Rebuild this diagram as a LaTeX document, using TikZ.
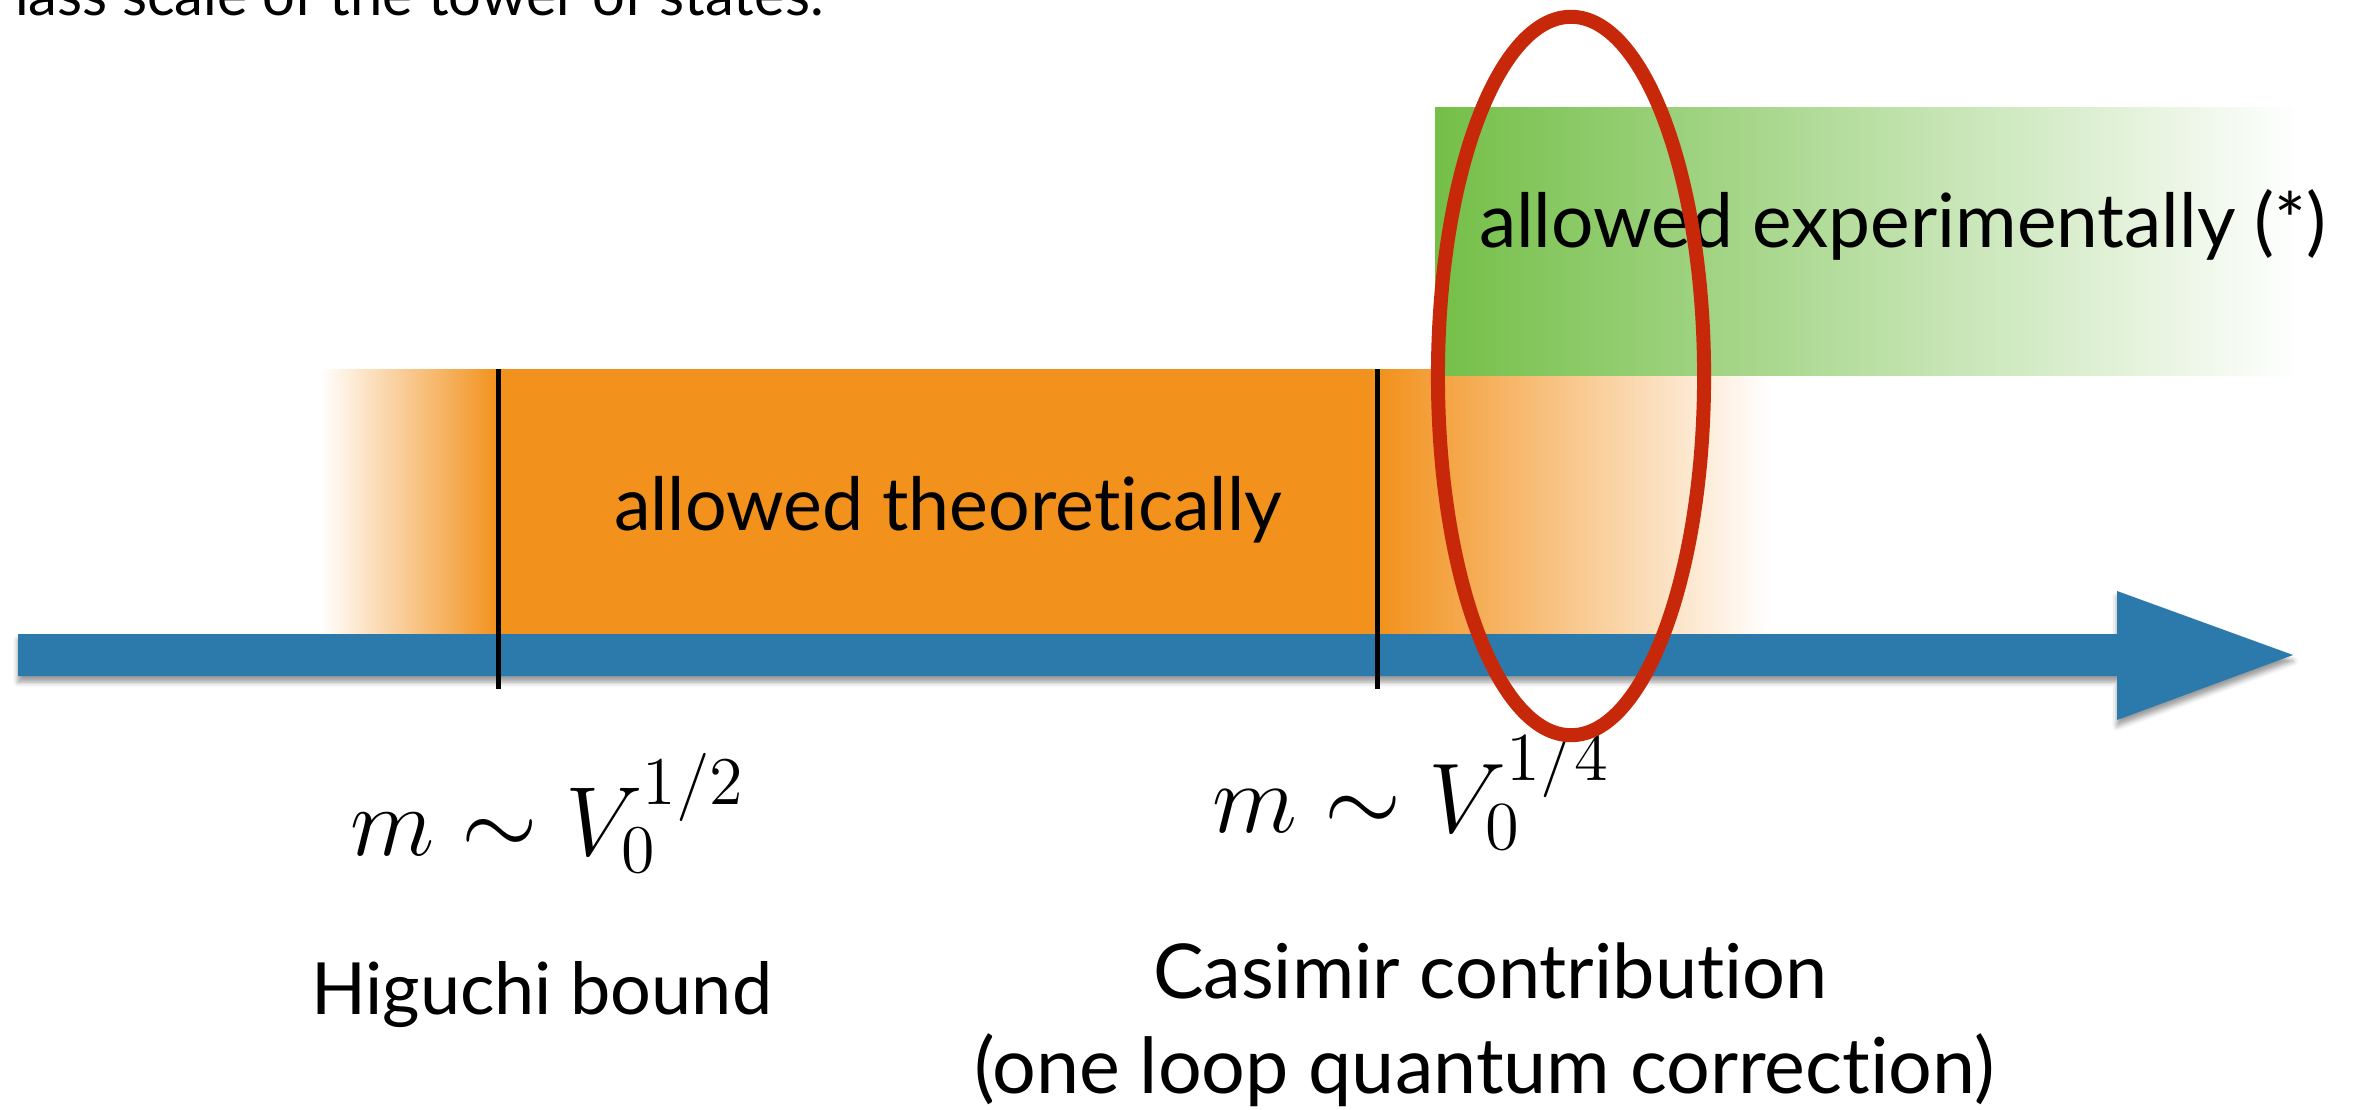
\documentclass[tikz,border=0pt]{standalone}
\usepackage[no-math]{fontspec}
\setmainfont{Lato}[Ligatures={NoCommon,NoDiscretionary}]
\usetikzlibrary{shapes.geometric,shadows.blur}
\definecolor{borange}{RGB}{242,145,28}
\definecolor{bgreen}{RGB}{116,191,72}
\definecolor{bblue}{RGB}{44,122,172}
\definecolor{bred}{RGB}{200,40,10}
\newcommand\fitw[2]{\resizebox{#1}{!}{#2}}
\begin{document}
\begin{tikzpicture}[x=0.01cm,y=-0.01cm,
  every node/.style={inner sep=0pt,outer sep=0pt},
  lbl/.style={anchor=base west,font=\fontsize{22}{26}\selectfont},
  tick/.style={line width=0.05cm,black},
  ring/.style={ellipse,draw=bred,line width=0.14cm}]
\useasboundingbox (0,0) rectangle (2355,1109);
\clip (0,0) rectangle (2355,1109);
% orange band
\shade[left color=white,right color=borange] (320,369) rectangle (498,635);
\fill[borange] (498,369) rectangle (1377,635);
\shade[left color=borange,right color=white] (1377,369) rectangle (1771,635);
% green band
\shade[left color=bgreen,right color=white] (1435,107) rectangle (2301,375);
% axis arrow
\fill[bblue,blur shadow={shadow xshift=0pt,shadow yshift=-0.06cm,shadow blur radius=0.05cm,shadow opacity=40}]
  (18,634) -- (2117,634) -- (2117,591) -- (2293,655) -- (2117,720) -- (2117,676) -- (18,676) -- cycle;
% ticks
\coordinate (t1a) at (498,369); \coordinate (t1b) at (498,689);
\coordinate (t2a) at (1377,369); \coordinate (t2b) at (1377,689);
\draw[tick] (t1a) -- (t1b);
\draw[tick] (t2a) -- (t2b);
% texts
\node[lbl] (top) at (15,15) {\fitw{8.08cm}{lass scale of the tower of states.}};
\node[lbl] (theo) at (614,530) {\fitw{6.68cm}{allowed theoretically}};
\node[lbl] (expt) at (1479,247) {\fitw{8.47cm}{allowed experimentally (*)}};
\node[lbl] (hig) at (311,1014) {\fitw{4.61cm}{Higuchi bound}};
\node[lbl] (cas1) at (1153,998) {\fitw{6.74cm}{Casimir contribution}};
\node[lbl] (cas2) at (974,1093) {\fitw{10.20cm}{(one loop quantum correction)}};
\node[lbl] (m12) at (350,855) {\fitw{3.95cm}{$m\sim V_0^{1/2}$}};
\node[lbl] (m14) at (1212,832) {\fitw{3.98cm}{$m\sim V_0^{1/4}$}};
% red ellipse
\node[ring,minimum width=2.66cm,minimum height=7.18cm] (circ) at (1571,376) {};
\end{tikzpicture}
\end{document}
